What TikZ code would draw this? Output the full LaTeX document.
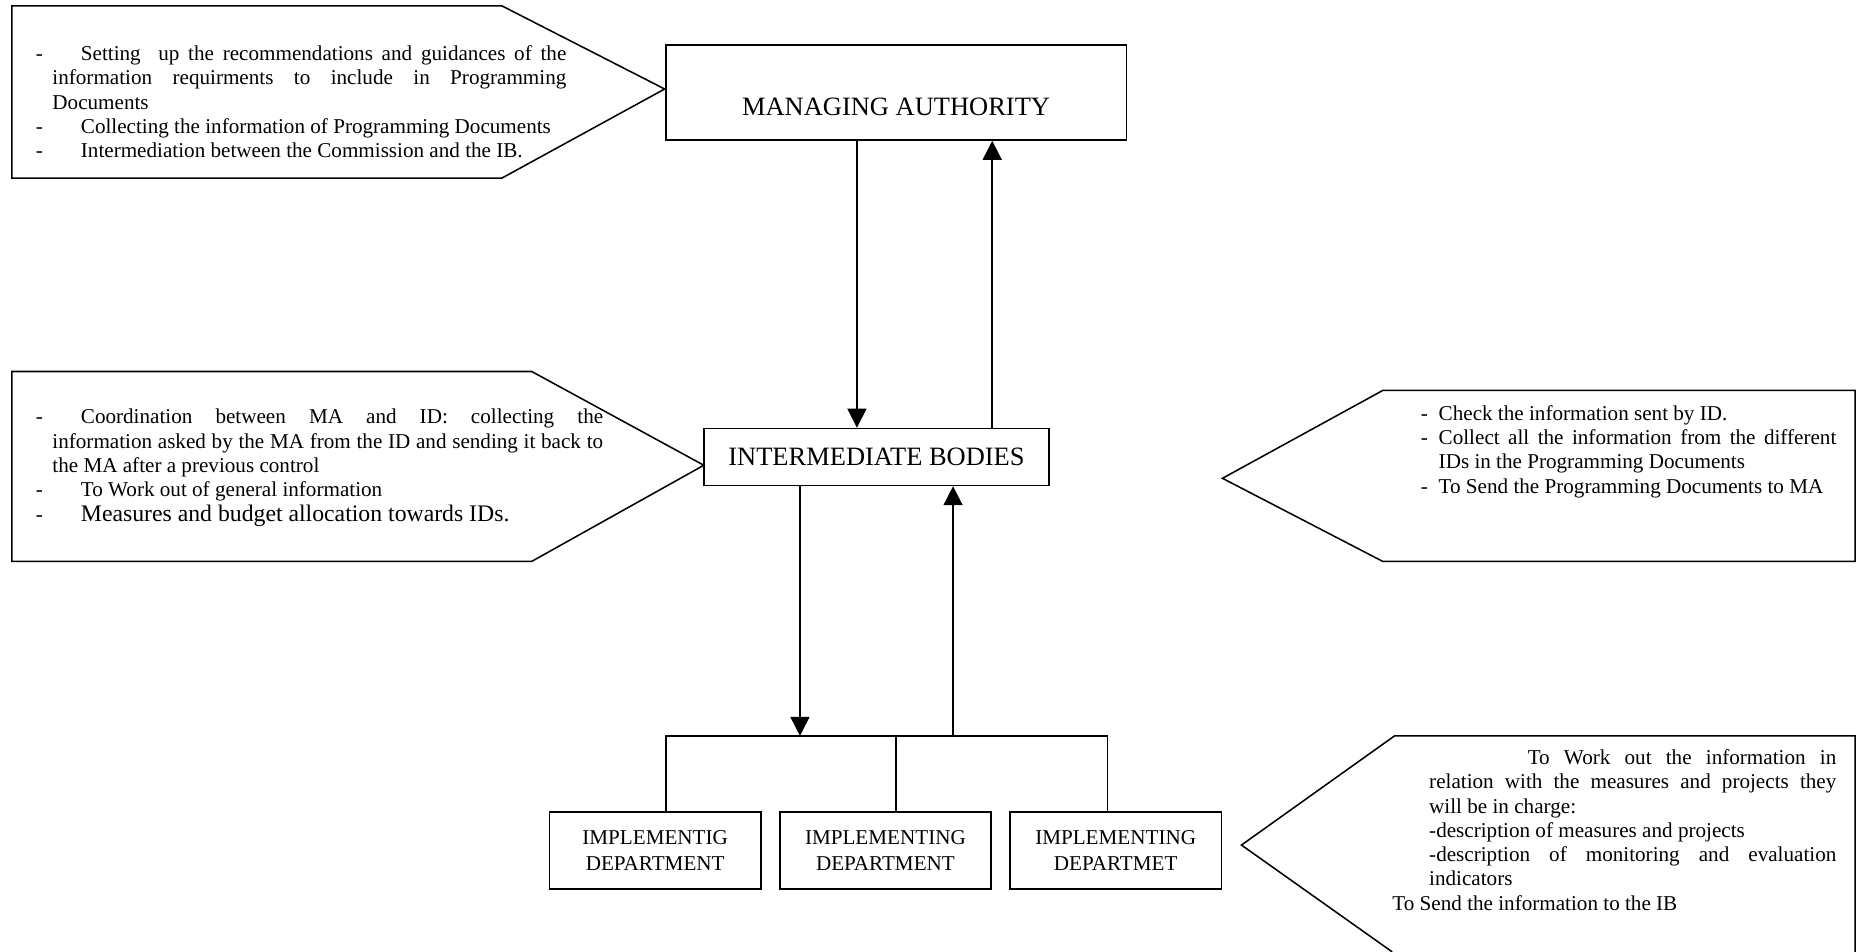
\documentclass[tikz,border=0pt]{standalone}
\usepackage{fontspec}
\setmainfont{Liberation Serif}
\usetikzlibrary{arrows.meta}
% text sizes
\newcommand\smalltxt{\fontsize{17.8}{20.5}\selectfont}
\newcommand\boxtxt{\fontsize{17.8}{22}\selectfont}
\newcommand\bigtxt{\fontsize{22.3}{26}\selectfont}
% list helpers: hanging dash, justified line of given width
\newcommand\itemdash{\makebox[38pt][l]{-}}
\newcommand\jl[2]{\makebox[#1][s]{#2}}
\begin{document}
\begin{tikzpicture}[x=1pt,y=1pt,
  box/.style={draw, line width=1.3pt, inner sep=0pt, align=center},
  callout/.style={draw, line width=1.3pt, line join=miter},
  arr/.style={line width=1.3pt, -{Triangle[width=16pt,length=16pt]}},
  link/.style={line width=1.3pt},
  txt/.style={inner sep=0pt, anchor=base west, font=\smalltxt}]
\useasboundingbox (0,0) rectangle (1568,-802);
\fill[white] (0,0) rectangle (1568,-802);

% pointed text panels
\draw[callout] (10,-5) -- (423,-5) -- (560,-75) -- (423,-150) -- (10,-150) -- cycle;
\draw[callout] (10,-313) -- (448,-313) -- (593,-392) -- (448,-473) -- (10,-473) -- cycle;
\draw[callout] (1030,-403) -- (1165,-329) -- (1563,-329) -- (1563,-473) -- (1165,-473) -- cycle;
\draw[callout] (1173,-802) -- (1046,-712) -- (1175,-620) -- (1563,-620) -- (1563,-802);

% organisation boxes
\node[box, minimum width=388pt, minimum height=80pt, text height=38.6pt, text depth=0pt, font=\bigtxt]
  (ma) at (755,-78) {MANAGING AUTHORITY};
\node[box, minimum width=291pt, minimum height=48pt, font=\bigtxt]
  (ib) at (738.5,-385) {INTERMEDIATE BODIES};
\node[box, minimum width=178pt, minimum height=65pt, font=\boxtxt] (id1) at (552,-716.5) {IMPLEMENTIG\\DEPARTMENT};
\node[box, minimum width=178pt, minimum height=65pt, font=\boxtxt] (id2) at (746,-716.5) {IMPLEMENTING\\DEPARTMENT};
\node[box, minimum width=178pt, minimum height=65pt, font=\boxtxt] (id3) at (940,-716.5) {IMPLEMENTING\\DEPARTMET};

% panel texts
\node[txt] (tma) at (30,-51) {\begin{tabular}[t]{@{}l@{}}
\itemdash\jl{409pt}{Setting\ \ up the recommendations and guidances of the}\\
\hspace*{14pt}\jl{433pt}{information requirments to include in Programming}\\
\hspace*{14pt}Documents\\
\itemdash Collecting the information of Programming Documents\\
\itemdash Intermediation between the Commission and the IB.
\end{tabular}};

\node[txt] (tib) at (30,-357) {\begin{tabular}[t]{@{}l@{}}
\itemdash\jl{440pt}{Coordination between MA and ID: collecting the}\\
\hspace*{14pt}\jl{464pt}{information asked by the MA from the ID and sending it back to}\\
\hspace*{14pt}the MA after a previous control\\
\itemdash To Work out of general information\\
\itemdash{\fontsize{20}{24}\selectfont Measures and budget allocation towards IDs.}
\end{tabular}};

\node[txt] (tib2) at (1197,-354) {\begin{tabular}[t]{@{}l@{}}
\makebox[15pt][l]{-}Check the information sent by ID.\\
\makebox[15pt][l]{-}\jl{335pt}{Collect all the information from the different}\\
\hspace*{15pt}IDs in the Programming Documents\\
\makebox[15pt][l]{-}To Send the Programming Documents to MA
\end{tabular}};

\node[txt] (tid) at (1204,-644) {\begin{tabular}[t]{@{}l@{}}
\hspace*{83pt}\jl{260pt}{To Work out the information in}\\
\jl{343pt}{relation with the measures and projects they}\\
will be in charge:\\
-description of measures and projects\\
\jl{343pt}{-description of monitoring and evaluation}\\
indicators\\
\hspace*{-31pt}To Send the information to the IB
\end{tabular}};

% connector positions
\coordinate (xa) at (722,0);
\coordinate (xb) at (836,0);
\coordinate (xc) at (674,0);
\coordinate (xd) at (803,0);
\coordinate (b1) at (561,-620);
\coordinate (b2) at (755,-620);
\coordinate (b3) at (933,-620);

% information flows
\draw[arr] (ma.south -| xa) -- (ib.north -| xa);
\draw[arr] (ib.north -| xb) -- (ma.south -| xb);
\draw[arr] (ib.south -| xc) -- (b1 -| xc);
\draw[arr] (b1 -| xd) -- (ib.south -| xd);

% branch to the departments
\draw[link] (id1.north -| b1) -- (b1) -- (b3) -- (id3.north -| b3);
\draw[link] (b2) -- (id2.north -| b2);
\end{tikzpicture}
\end{document}
